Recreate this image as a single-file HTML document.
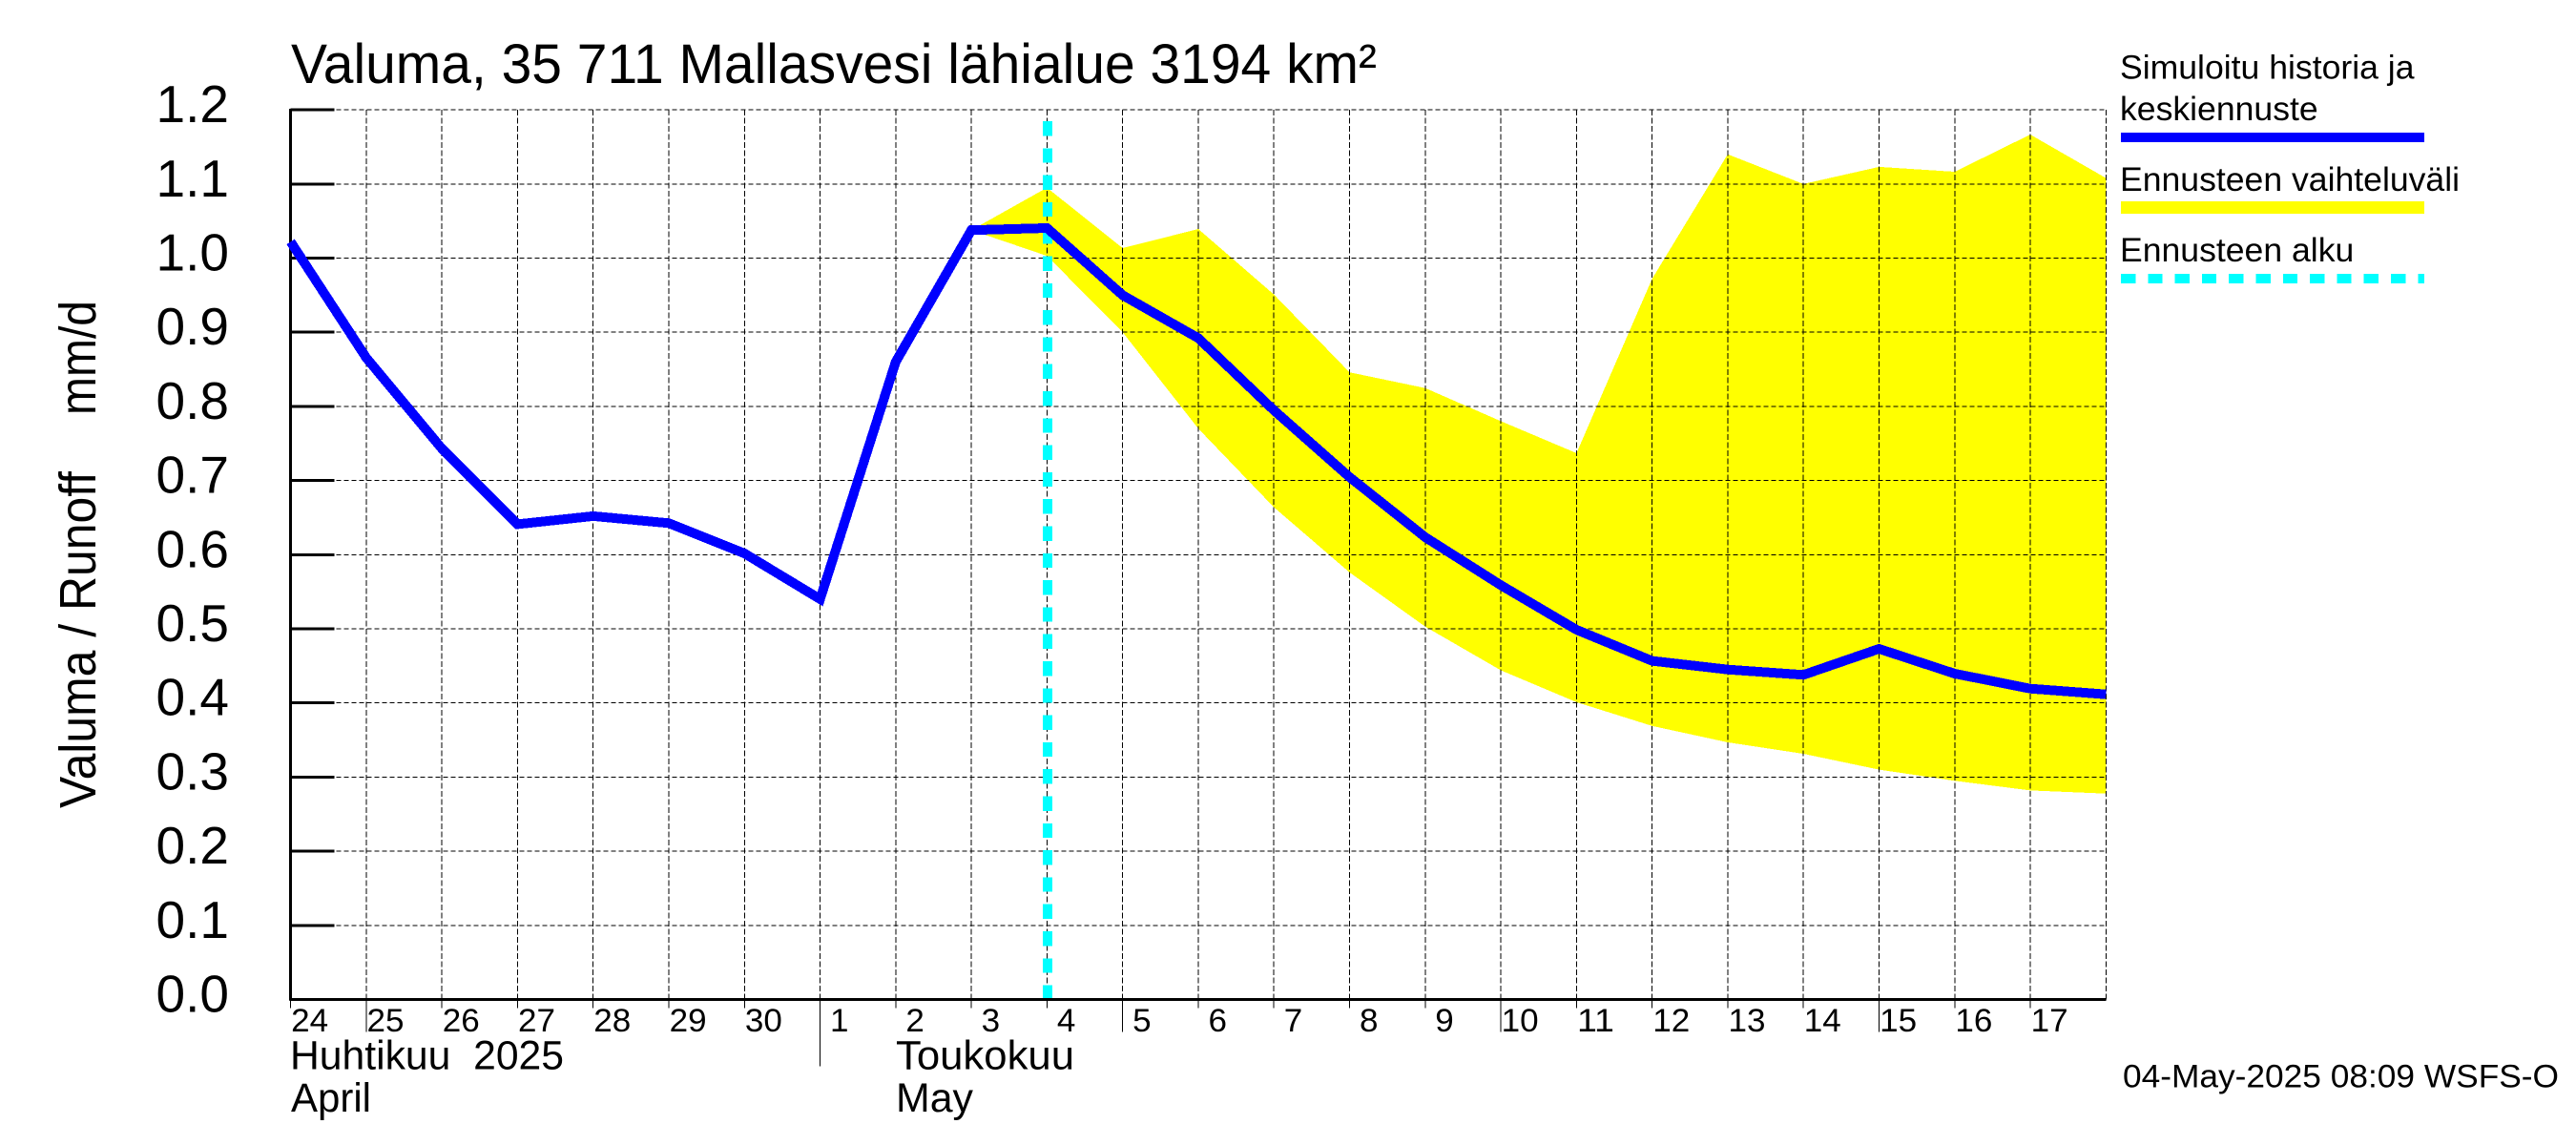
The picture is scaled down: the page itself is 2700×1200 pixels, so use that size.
<!DOCTYPE html>
<html lang="fi">
<head>
<meta charset="utf-8">
<title>Valuma, 35 711 Mallasvesi lähialue</title>
<style>
html,body{margin:0;padding:0;background:#fff;width:2700px;height:1200px;overflow:hidden}
svg{display:block}
text{font-family:"Liberation Sans",Arial,sans-serif;fill:#000}
</style>
</head>
<body>
<svg id="chart" xmlns="http://www.w3.org/2000/svg" width="2700" height="1200" viewBox="0 0 2700 1200">
  <rect x="0" y="0" width="2700" height="1200" fill="#fff"/>
  <g id="band-layer"></g>
  <g id="grid-layer"></g>
  <g id="start-layer"></g>
  <g id="axis-layer"></g>
  <g id="line-layer"></g>

  <text x="305" y="87" font-size="58" textLength="1138" lengthAdjust="spacingAndGlyphs">Valuma, 35 711 Mallasvesi lähialue 3194 km²</text>

  <text transform="translate(100,847) rotate(-90)" font-size="54" textLength="353" lengthAdjust="spacingAndGlyphs">Valuma / Runoff</text>
  <text transform="translate(100,435) rotate(-90)" font-size="54" textLength="120" lengthAdjust="spacingAndGlyphs">mm/d</text>

  <text x="304" y="1120.7" font-size="43" textLength="287" lengthAdjust="spacingAndGlyphs" style="white-space:pre">Huhtikuu  2025</text>
  <text x="305" y="1165" font-size="43" textLength="84" lengthAdjust="spacingAndGlyphs">April</text>
  <text x="939" y="1120.7" font-size="43" textLength="187" lengthAdjust="spacingAndGlyphs">Toukokuu</text>
  <text x="939" y="1165" font-size="43" textLength="81" lengthAdjust="spacingAndGlyphs">May</text>

  <g>
    <text x="2222" y="82.7" font-size="35.6">Simuloitu historia ja</text>
    <text x="2222" y="126" font-size="35.6">keskiennuste</text>
    <rect x="2223" y="139" width="318" height="10" fill="#0000ff"/>
    <text x="2222" y="200" font-size="35.6">Ennusteen vaihteluväli</text>
    <rect x="2223" y="211" width="318" height="13" fill="#ffff00"/>
    <text x="2222" y="274" font-size="35.6">Ennusteen alku</text>
    <line x1="2223" y1="292" x2="2541" y2="292" stroke="#00ffff" stroke-width="10" stroke-dasharray="15.3 13" shape-rendering="crispEdges"/>
  </g>

  <text x="2225" y="1139.3" font-size="34" textLength="457" lengthAdjust="spacingAndGlyphs">04-May-2025 08:09 WSFS-O</text>
</svg>
<script>
const dayLabels = ["24","25","26","27","28","29","30","1","2","3","4","5","6","7","8","9","10","11","12","13","14","15","16","17"];
const longTickDays = ["25","5","10","15"];
const monthStartDay = "1";
const yTickValues = [0.0,0.1,0.2,0.3,0.4,0.5,0.6,0.7,0.8,0.9,1.0,1.1,1.2];
const meanSeries = [1.022,0.8655,0.743,0.641,0.652,0.6425,0.6017,0.54,0.86,1.0377,1.0405,0.950,0.892,0.7947,0.7046,0.6235,0.5588,0.4987,0.4567,0.445,0.4378,0.473,0.4395,0.4193,0.4116];
const rangeStartIndex = 9;
const rangeLow = [1.0377,1.003,0.90,0.770,0.664,0.576,0.503,0.444,0.401,0.369,0.3468,0.3314,0.31,0.295,0.282,0.2777];
const rangeHigh = [1.0377,1.095,1.0135,1.0393,0.951,0.846,0.8247,0.78,0.737,0.972,1.140,1.100,1.123,1.1165,1.1667,1.108];
const forecastStartIndex = 10;

const NS = "http://www.w3.org/2000/svg";
function xScale(i){ return 304.6 + 79.28 * i; }
function yScale(v){ return 1047.5 - 777 * v; }
function mk(tag, parent, attrs){
  const el = document.createElementNS(NS, tag);
  for (const k in attrs) el.setAttribute(k, attrs[k]);
  parent.appendChild(el);
  return el;
}
const bandLayer = document.getElementById("band-layer");
const gridLayer = document.getElementById("grid-layer");
const startLayer = document.getElementById("start-layer");
const axisLayer = document.getElementById("axis-layer");
const lineLayer = document.getElementById("line-layer");
const lastIndex = dayLabels.length;

// forecast range
const upperPts = rangeHigh.map((v,i)=>xScale(i+rangeStartIndex).toFixed(1)+","+yScale(v).toFixed(1));
const lowerPts = rangeLow.map((v,i)=>xScale(i+rangeStartIndex).toFixed(1)+","+yScale(v).toFixed(1)).reverse();
const band = mk("polygon", bandLayer, {points: upperPts.concat(lowerPts).join(" "), fill:"#ffff00", "shape-rendering":"crispEdges"});



// grid
yTickValues.forEach(v=>{
  const g = mk("line", gridLayer, {x1:xScale(0), x2:xScale(lastIndex), y1:yScale(v), y2:yScale(v), stroke:"#000", "stroke-width":1, "stroke-dasharray":"5 3", "shape-rendering":"crispEdges"});
  
  
});
for (let i=1;i<=lastIndex;i++){
  const g = mk("line", gridLayer, {x1:xScale(i), x2:xScale(i), y1:yScale(1.2), y2:yScale(0), stroke:"#000", "stroke-width":1, "stroke-dasharray":"6 2.5", "shape-rendering":"crispEdges"});
  
  
}

// forecast start marker
const startLine = mk("line", startLayer, {x1:xScale(forecastStartIndex)+0.7, x2:xScale(forecastStartIndex)+0.7, y1:127, y2:yScale(0), stroke:"#00ffff", "stroke-width":10, "stroke-dasharray":"15.3 13", "shape-rendering":"crispEdges"});



// axes
const yAxis = mk("line", axisLayer, {x1:xScale(0), x2:xScale(0), y1:yScale(1.2)-1, y2:yScale(0)+1, stroke:"#000", "stroke-width":3, "shape-rendering":"crispEdges"});


const xAxis = mk("line", axisLayer, {x1:xScale(0)-1, x2:xScale(lastIndex), y1:yScale(0), y2:yScale(0), stroke:"#000", "stroke-width":3.2, "shape-rendering":"crispEdges"});



yTickValues.forEach(v=>{
  const t = mk("line", axisLayer, {x1:xScale(0), x2:xScale(0)+46, y1:yScale(v), y2:yScale(v), stroke:"#000", "stroke-width":3, "shape-rendering":"crispEdges"});
  
  
  const lab = mk("text", axisLayer, {x:240, y:yScale(v)+13, "font-size":55, "text-anchor":"end"});
  lab.textContent = v.toFixed(1);
  
  
});

dayLabels.forEach((d,i)=>{
  const x = xScale(i);
  let bottom = 1056.7;
  if (longTickDays.includes(d)) bottom = 1081.7;
  if (d === monthStartDay) bottom = 1117.7;
  const t = mk("line", axisLayer, {x1:x, x2:x, y1:yScale(0), y2:bottom, stroke:"#000", "stroke-width":1, "shape-rendering":"crispEdges"});
  
  
  const two = d.length === 2;
  const lab = mk("text", axisLayer, {x: two ? x+0.6 : x+10.5, y:1081, "font-size":34, textLength: two ? 39 : 19.5, lengthAdjust:"spacingAndGlyphs"});
  lab.textContent = d;
  
  
});

// mean series
const meanPts = meanSeries.map((v,i)=>xScale(i).toFixed(1)+","+yScale(v).toFixed(1)).join(" ");
const meanLine = mk("polyline", lineLayer, {points: meanPts, fill:"none", stroke:"#0000ff", "stroke-width":10, "stroke-linejoin":"miter", "stroke-linecap":"butt", "shape-rendering":"crispEdges"});


</script>
</body>
</html>
